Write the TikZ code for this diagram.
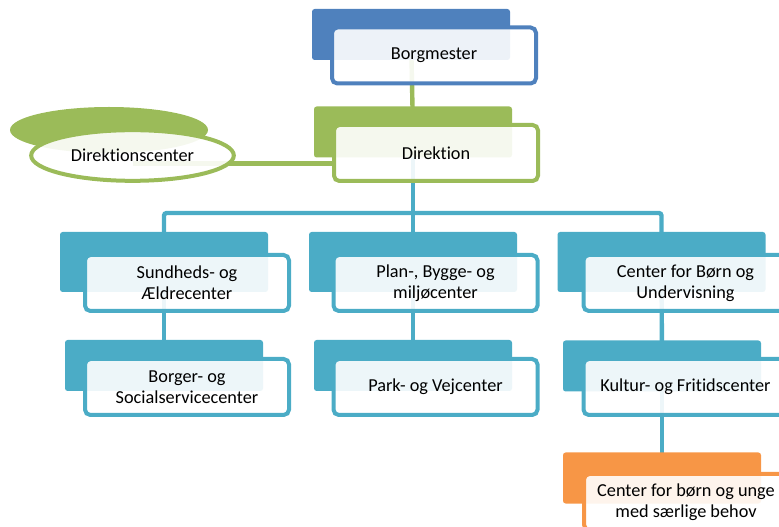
\documentclass[tikz,border=0pt]{standalone}
\usepackage{fontspec}
\setmainfont{Carlito}[Ligatures=NoCommon]
\usepackage{xcolor}
\usepackage{tikz}
\usetikzlibrary{positioning,shapes.geometric,backgrounds}
\definecolor{mayorblue}{HTML}{4F81BD}
\definecolor{dirgreen}{HTML}{9BBB59}
\definecolor{centerteal}{HTML}{4BACC6}
\definecolor{specialorange}{HTML}{F79646}
\newcommand{\boxfont}{\fontsize{13.7}{15.8}\selectfont}
\tikzset{
	backbox/.style = {
			rectangle, rounded corners=2pt,
			fill            = #1,
			inner sep = 0pt,
			minimum width=148.5pt, minimum height=38.25pt,
		},
	widebox/.style = {backbox=#1, minimum width=156pt, minimum height=45pt},
	frontbox/.style = {
			rectangle, rounded corners=4pt,
			draw=#1, line width=3pt,
			fill=white, fill opacity=0.9, text opacity=1,
			align=center, inner sep=2pt, font=\boxfont,
			minimum width=153pt, minimum height=42pt,
		},
	backoval/.style = {ellipse, fill=dirgreen, inner sep=0pt, minimum width=148.5pt, minimum height=34.5pt},
	frontoval/.style = {
			ellipse, draw=dirgreen, line width=3pt,
			fill=white, fill opacity=0.9, text opacity=1, font=\boxfont,
			inner sep=0pt, minimum width=152pt, minimum height=38pt,
		},
	link/.style = {draw=#1, line width=3.3pt, rounded corners=2pt},
}

\begin{document}
\begin{tikzpicture}[x=0.75pt,y=-0.75pt]
		\useasboundingbox (0,0) rectangle (779,527);
		\clip (0,0) rectangle (779,527);

		\node[backbox=mayorblue] at (411,34.5) (borgmesterB) {};
		\node[frontbox=mayorblue] at (434,55.5) (borgmester) {Borgmester};

		\node[backbox=dirgreen] at (413,132) (direktionB) {};
		\node[frontbox=dirgreen] at (436,153) (direktion) {Direktion};

		\node[backoval] at (109,130) (dcenterB) {};
		\node[frontoval] at (132.5,155.5) (dcenter) {Direktionscenter};

		\node[widebox=centerteal] at (164,262) (sundhedB) {};
		\node[frontbox=centerteal] at (187,283) (sundhed) {Sundheds- og\\Ældrecenter};
		\node[widebox=centerteal] at (413,262) (planB) {};
		\node[frontbox=centerteal] at (435.5,283) (plan) {Plan-, Bygge- og\\miljøcenter};
		\node[widebox=centerteal] at (661.5,262) (boernB) {};
		\node[frontbox=centerteal] at (685.5,283) (boern) {Center for Børn og\\Undervisning};

		\node[backbox=centerteal] at (164,365.5) (borgerB) {};
		\node[frontbox=centerteal] at (187,387) (borger) {Borger- og\\Socialservicecenter};
		\node[backbox=centerteal] at (413,365.5) (parkB) {};
		\node[frontbox=centerteal] at (435.5,387) (park) {Park- og Vejcenter};
		\node[backbox=centerteal] at (662,366) (kulturB) {};
		\node[frontbox=centerteal] at (685.5,387) (kultur) {Kultur- og Fritidscenter};

		\node[backbox=specialorange] at (662,478) (specialB) {};
		\node[frontbox=specialorange] at (686,502) (special) {Center for børn og unge\\med særlige behov};

		\coordinate (bus) at (0,213);

		\begin{scope}[on background layer]
			\draw[link=dirgreen] (borgmesterB.center) -- (direktionB.center);
			\draw[link=dirgreen] ([yshift=-6pt]dcenter.center) -- ([yshift=-6pt]dcenter.center -| direktion.west);
			\draw[link=centerteal] (direktionB.center) -- (direktionB.center |- bus);
			\draw[link=centerteal] (sundhedB.center) -- (sundhedB.center |- bus) -- (boernB.center |- bus) -- (boernB.center);
			\draw[link=centerteal] (planB.center |- bus) -- (planB.center);
			\draw[link=centerteal] (sundhedB.center) -- (borgerB.center);
			\draw[link=centerteal] (planB.center) -- (parkB.center);
			\draw[link=centerteal] (boernB.center) -- (kulturB.center);
			\draw[link=centerteal] (kulturB.center) -- (specialB.center);
		\end{scope}
	\end{tikzpicture}
\end{document}
